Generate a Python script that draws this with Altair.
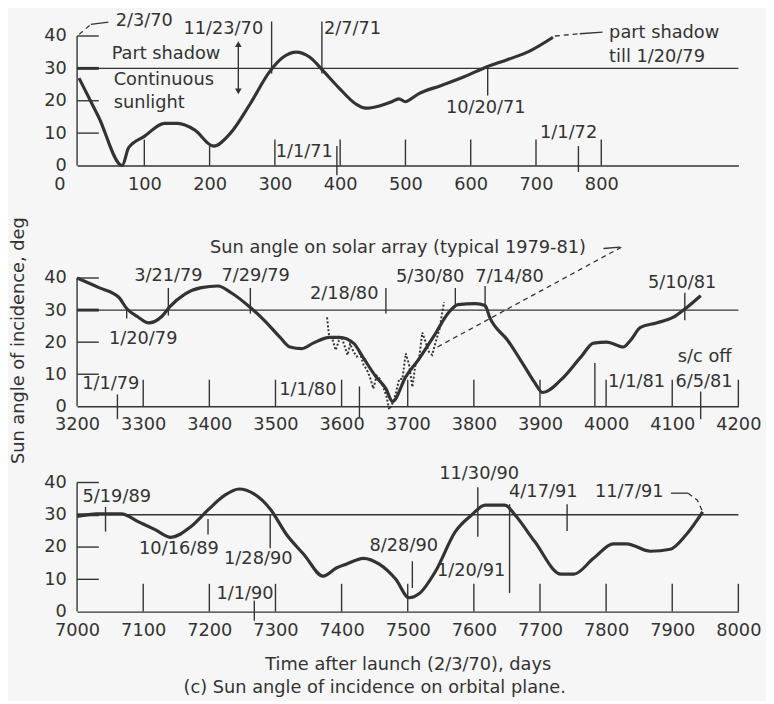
import altair as alt
import pandas as pd

INK = "#333333"
BG = "#f6f6f6"
FONT = "DejaVu Sans"
FS = 18

# ---------------- Panel 1: launch period (days 0-800) ----------------
p1_day = [0, 30, 66, 76, 100, 131, 151, 177, 206, 232, 262, 292, 313, 333, 353, 375, 398, 424, 439, 460,
          478, 490, 500, 508, 519, 555, 590, 625, 655, 691, 726]
p1_deg = [27, 15, 0, 5.5, 9, 13, 13, 11, 6, 10, 19, 29, 33.5, 35, 33.5, 29, 24, 19, 17.7, 18.4,
          19.6, 20.6, 19.7, 20.5, 22, 24.7, 27.4, 30.5, 32.6, 35.4, 39.6]
p1_tick_day = [100, 200, 300, 395, 400, 500, 600, 700, 765, 800]
p1_tick_lo = [0, 0, 0, -3, 0, 0, 0, 0, -2, 0]
p1_tick_hi = [8, 6, 8, 6, 8, 8, 8, 8, 6, 8]
p1_mark_day = [295, 372, 626]
p1_mark_lo = [28.4, 28.4, 21.6]
p1_mark_hi = [44.5, 44.5, 30.8]
p1_lab_text = ["2/3/70", "11/23/70", "2/7/71", "Part shadow", "Continuous", "sunlight",
               "10/20/71", "1/1/71", "1/1/72", "part shadow", "till 1/20/79"]
p1_lab_day = [100, 221, 419, 50, 53, 53, 623, 345, 750, 812, 812]
p1_lab_deg = [44.5, 42, 42, 34.5, 26.5, 19.2, 17.7, 4, 10, 40.9, 33.5]
p1_lab_align = ["center", "center", "center", "left", "left", "left", "center", "center", "center", "left", "left"]
p1_xlabels = [0, 100, 200, 300, 400, 500, 600, 700, 800]
p1_solid_day = [18, 45, None, 767, 802]
p1_solid_deg = [43.6, 44.3, None, 40.7, 41.2]
p1_dash_day = [0, 18, None, 729, 767]
p1_dash_deg = [40.5, 43.6, None, 40, 40.7]
p1_arrow_day = [244, 244]
p1_arrow_deg = [37.5, 22.9]

# ---------------- Panel 2: 1979-81 ----------------
p2_day = [3200, 3233, 3263, 3275, 3293, 3308, 3328, 3340, 3363, 3388, 3413, 3433, 3462, 3483, 3507, 3522,
          3540, 3557, 3582, 3597, 3618, 3632, 3652, 3667, 3677, 3697, 3716, 3742, 3761, 3776, 3802, 3817,
          3824, 3851, 3877, 3892, 3904, 3932, 3962, 3981, 4001, 4026, 4037, 4052, 4076, 4101, 4120, 4143]
p2_deg = [40, 37, 34, 30.5, 27.7, 26, 28, 31, 35, 37, 37.5, 35.4, 30.8, 26.8, 21.5, 18.5,
          18, 19.7, 21.5, 21.5, 19.7, 15.4, 9.2, 5.5, 1.5, 9.2, 14.5, 22.7, 29, 31.7, 32, 31.4,
          27.7, 20.6, 12.3, 7.4, 4.3, 8.3, 15.4, 19.7, 20, 18.5, 20.6, 24.6, 26, 27.7, 30.5, 34.5]
p2_dot_day = [3578, 3581, 3586, 3591, 3596, 3601, 3605, 3609, 3613, 3618, 3623, 3628, 3633, 3638, 3643,
              3648, 3653, 3658, 3663, 3668, 3672, 3677, 3682, 3687, 3692, 3697, 3702, 3707, 3712, 3717,
              3722, 3727, 3732, 3737, 3743, 3748, 3752, 3755]
p2_dot_deg = [27.7, 22, 21, 17.5, 20.5, 21, 18.5, 16, 19.5, 17, 15.5, 16.5, 13, 11.5, 9,
              5.5, 9.5, 8.5, 6, 3, -1, 1, 4, 8.5, 8.5, 16.5, 13, 6, 13.5, 14.5,
              23, 20, 17, 16, 20.6, 24, 29, 32.5]
p2_tick_day = [3261, 3300, 3400, 3500, 3600, 3627, 3700, 3800, 3900, 3983, 4000, 4100, 4143, 4200]
p2_tick_lo = [-4, 0, 0, 0, 0, -3.4, 0, 0, 0, 0, 0, 0, -4, 0]
p2_tick_hi = [3.7, 8.3, 8.3, 8.3, 8.3, 6.2, 8.3, 8.3, 8.3, 13.5, 8.3, 8.3, 4.6, 8.3]
p2_mark_day = [3275, 3338, 3462, 3667, 3772, 3817, 4119]
p2_mark_lo = [27.4, 28.3, 28.9, 28.9, 30.8, 30.5, 26.8]
p2_mark_hi = [30.5, 36.9, 36.9, 36.9, 36.9, 37.5, 35.4]
p2_lab_text = ["3/21/79", "7/29/79", "1/20/79", "2/18/80", "5/30/80", "7/14/80", "5/10/81", "s/c off",
               "6/5/81", "1/1/81", "1/1/80", "1/1/79", "Sun angle on solar array (typical 1979-81)"]
p2_lab_day = [3338, 3470, 3300, 3604, 3734, 3854, 4115, 4149, 4148, 4046, 3549, 3251, 3401]
p2_lab_deg = [40.6, 40.6, 20.9, 35, 40.3, 40.3, 38.5, 15.4, 7.7, 7.7, 5.2, 6.8, 49.2]
p2_lab_align = ["center"] * 12 + ["left"]
p2_xlabels = [3200, 3300, 3400, 3500, 3600, 3700, 3800, 3900, 4000, 4100, 4200]
p2_solid_day = [3996, 4021]
p2_solid_deg = [49.2, 49.6]
p2_dash_day = [4023, 3745]
p2_dash_deg = [49.6, 18.5]

# ---------------- Panel 3: 1989-91 ----------------
p3_day = [7000, 7030, 7067, 7093, 7118, 7142, 7172, 7198, 7223, 7245, 7268, 7292, 7317, 7343, 7372, 7392,
          7407, 7433, 7457, 7482, 7502, 7517, 7542, 7572, 7597, 7617, 7647, 7662, 7692, 7732, 7751, 7781,
          7811, 7831, 7867, 7897, 7921, 7946]
p3_deg = [29.5, 30.3, 30.3, 27.8, 25.4, 23, 26.3, 31.5, 36, 38, 36.4, 31.8, 23.8, 17.7, 11, 13.5,
          14.7, 16.5, 14.7, 10, 4.3, 5.5, 12.5, 24.8, 30, 33, 33, 30, 21.7, 11.6, 11.6, 16.5,
          21, 21, 18.7, 19.3, 23.8, 30.9]
p3_tick_day = [7100, 7200, 7268, 7300, 7400, 7500, 7600, 7700, 7800, 7900, 8000]
p3_tick_lo = [0, 0, -2.8, 0, 0, 0, 0, 0, 0, 0, 0]
p3_tick_hi = [8.6, 8.6, 3.4, 8.6, 8.6, 8.6, 8.6, 8.6, 8.6, 8.6, 8.6]
p3_mark_day = [7043, 7198, 7292, 7507, 7606, 7654, 7741]
p3_mark_lo = [24.8, 23.9, 19.6, 7.3, 23.2, 5.8, 25]
p3_mark_hi = [32.4, 28.7, 30, 15.6, 38.5, 33.3, 33.3]
p3_lab_text = ["5/19/89", "10/16/89", "1/28/90", "1/1/90", "8/28/90", "1/20/91", "11/30/90", "4/17/91", "11/7/91"]
p3_lab_day = [7060, 7154, 7274, 7254, 7494, 7596, 7608, 7705, 7835]
p3_lab_deg = [35.5, 19.3, 16.2, 5.5, 20.2, 12.5, 42.5, 37, 37]
p3_lab_align = ["center"] * 9
p3_xlabels = [7000, 7100, 7200, 7300, 7400, 7500, 7600, 7700, 7800, 7900, 8000]
p3_solid_day = [7898, 7924]
p3_solid_deg = [36.7, 36.7]
p3_dash_day = [7924, 7938, 7946]
p3_dash_deg = [36.7, 34.5, 30.9]

ytick_vals = [10, 20, 40]
ref_angle = [30]
yaxis_labels = [0, 10, 20, 30, 40]


def seg_df(days, degs):
    rows, seg = [], 0
    for i, (d, v) in enumerate(zip(days, degs)):
        if d is None:
            seg += 1
            continue
        rows.append({"x": d, "y": v, "seg": seg, "o": i})
    return pd.DataFrame(rows)


def make_panel(dom_x, ytop, height, cday, cdeg, tday, tlo, thi, mday, mlo, mhi,
               ltext, lday, ldeg, lalign, xlabels, sday, sdeg, dday, ddeg,
               ytitle=None, xtitle=None, extra=None, zero_offset=False):
    xaxis = dict(values=xlabels, format="d", labelPadding=10, ticks=False, domain=True, grid=False,
                 domainColor=INK, domainWidth=1.4, title=xtitle, titlePadding=17,
                 labelFlush=False)
    if zero_offset:
        xaxis["labelOffset"] = {"condition": {"test": "datum.value == 0", "value": -20}, "value": 0}
    yaxis = dict(values=yaxis_labels, format="d", labelPadding=11, ticks=False, domain=False, grid=False,
                 title=ytitle, titlePadding=16)
    if ytitle:
        yaxis["titleY"] = 115

    def X(f):
        return alt.X(f"{f}:Q", scale=alt.Scale(domain=dom_x, nice=False, zero=False), axis=alt.Axis(**xaxis))

    def Y(f):
        return alt.Y(f"{f}:Q", scale=alt.Scale(domain=[0, ytop], nice=False, zero=False), axis=alt.Axis(**yaxis))

    layers = []
    layers.append(alt.Chart(pd.DataFrame({"lo": [0], "hi": [40]})).mark_rule(color=INK, strokeWidth=1.4)
                  .encode(x=alt.value(0), y=Y("lo"), y2=alt.Y2("hi")))
    layers.append(alt.Chart(pd.DataFrame({"v": ytick_vals})).mark_rule(color=INK, strokeWidth=1.4)
                  .encode(x=alt.value(0), x2=alt.value(22), y=Y("v")))
    layers.append(alt.Chart(pd.DataFrame({"v": ref_angle})).mark_rule(color=INK, strokeWidth=3)
                  .encode(x=alt.value(0), x2=alt.value(22), y=Y("v")))
    layers.append(alt.Chart(pd.DataFrame({"v": ref_angle})).mark_rule(color=INK, strokeWidth=1.4)
                  .encode(y=Y("v")))
    layers.append(alt.Chart(pd.DataFrame({"x": tday, "lo": tlo, "hi": thi})).mark_rule(color=INK, strokeWidth=1.4)
                  .encode(x=X("x"), y=Y("lo"), y2=alt.Y2("hi")))
    layers.append(alt.Chart(pd.DataFrame({"x": mday, "lo": mlo, "hi": mhi})).mark_rule(color=INK, strokeWidth=1.4)
                  .encode(x=X("x"), y=Y("lo"), y2=alt.Y2("hi")))
    if extra is not None:
        layers.extend(extra(X, Y))
    layers.append(alt.Chart(pd.DataFrame({"x": cday, "y": cdeg})).mark_line(
        color=INK, strokeWidth=3.2, interpolate="monotone").encode(x=X("x"), y=Y("y")))
    layers.append(alt.Chart(seg_df(sday, sdeg)).mark_line(color=INK, strokeWidth=1.3)
                  .encode(x=X("x"), y=Y("y"), detail="seg:N", order="o:Q"))
    layers.append(alt.Chart(seg_df(dday, ddeg)).mark_line(color=INK, strokeWidth=1.3, strokeDash=[5, 4])
                  .encode(x=X("x"), y=Y("y"), detail="seg:N", order="o:Q"))
    lab = pd.DataFrame({"x": lday, "y": ldeg, "t": ltext, "a": lalign})
    for al in ["center", "left"]:
        sub = lab[lab["a"] == al]
        if len(sub):
            layers.append(alt.Chart(sub).mark_text(font=FONT, fontSize=FS, color=INK, align=al, baseline="middle")
                          .encode(x=X("x"), y=Y("y"), text="t:N"))
    return alt.layer(*layers).properties(width=670, height=height)


def p1_extra(X, Y):
    arr = pd.DataFrame({"x": p1_arrow_day, "y": p1_arrow_deg})
    rule = alt.Chart(pd.DataFrame({"x": [p1_arrow_day[0]], "lo": [p1_arrow_deg[1]], "hi": [p1_arrow_deg[0]]})) \
        .mark_rule(color=INK, strokeWidth=1.4).encode(x=X("x"), y=Y("lo"), y2=alt.Y2("hi"))
    up = alt.Chart(arr.iloc[[0]]).mark_point(shape="triangle-up", filled=True, size=45, color=INK, opacity=1) \
        .encode(x=X("x"), y=Y("y"))
    dn = alt.Chart(arr.iloc[[1]]).mark_point(shape="triangle-down", filled=True, size=45, color=INK, opacity=1) \
        .encode(x=X("x"), y=Y("y"))
    return [rule, up, dn]


def p2_extra(X, Y):
    return [alt.Chart(pd.DataFrame({"x": p2_dot_day, "y": p2_dot_deg})).mark_line(
        color=INK, strokeWidth=2, strokeDash=[2, 2]).encode(x=X("x"), y=Y("y"))]


panel1 = make_panel([-3, 1010], 153 / 3.28, 153, p1_day, p1_deg, p1_tick_day, p1_tick_lo, p1_tick_hi,
                    p1_mark_day, p1_mark_lo, p1_mark_hi, p1_lab_text, p1_lab_day, p1_lab_deg, p1_lab_align,
                    p1_xlabels, p1_solid_day, p1_solid_deg, p1_dash_day, p1_dash_deg,
                    extra=p1_extra, zero_offset=True)
panel2 = make_panel([3200, 4200], 182 / 3.25, 182, p2_day, p2_deg, p2_tick_day, p2_tick_lo, p2_tick_hi,
                    p2_mark_day, p2_mark_lo, p2_mark_hi, p2_lab_text, p2_lab_day, p2_lab_deg, p2_lab_align,
                    p2_xlabels, p2_solid_day, p2_solid_deg, p2_dash_day, p2_dash_deg,
                    ytitle="Sun angle of incidence, deg", extra=p2_extra)
panel3 = make_panel([7000, 8000], 146 / 3.27, 146, p3_day, p3_deg, p3_tick_day, p3_tick_lo, p3_tick_hi,
                    p3_mark_day, p3_mark_lo, p3_mark_hi, p3_lab_text, p3_lab_day, p3_lab_deg, p3_lab_align,
                    p3_xlabels, p3_solid_day, p3_solid_deg, p3_dash_day, p3_dash_deg,
                    xtitle="Time after launch (2/3/70), days")

chart = alt.vconcat(panel1, panel2, panel3, spacing=62, bounds="flush").properties(
    title=alt.TitleParams("(c) Sun angle of incidence on orbital plane.", orient="bottom", anchor="middle",
                          font=FONT, fontSize=FS, fontWeight="normal", color=INK, offset=5, dx=-11),
    padding={"left": 2, "top": 0, "right": 5, "bottom": 0},
).configure(background=BG).configure_view(strokeWidth=0).configure_axis(
    labelFont=FONT, labelFontSize=FS, labelColor=INK, titleFont=FONT, titleFontSize=FS,
    titleFontWeight="normal", titleColor=INK
)

chart.save("out.html", embed_options={"renderer": "svg", "actions": False})
